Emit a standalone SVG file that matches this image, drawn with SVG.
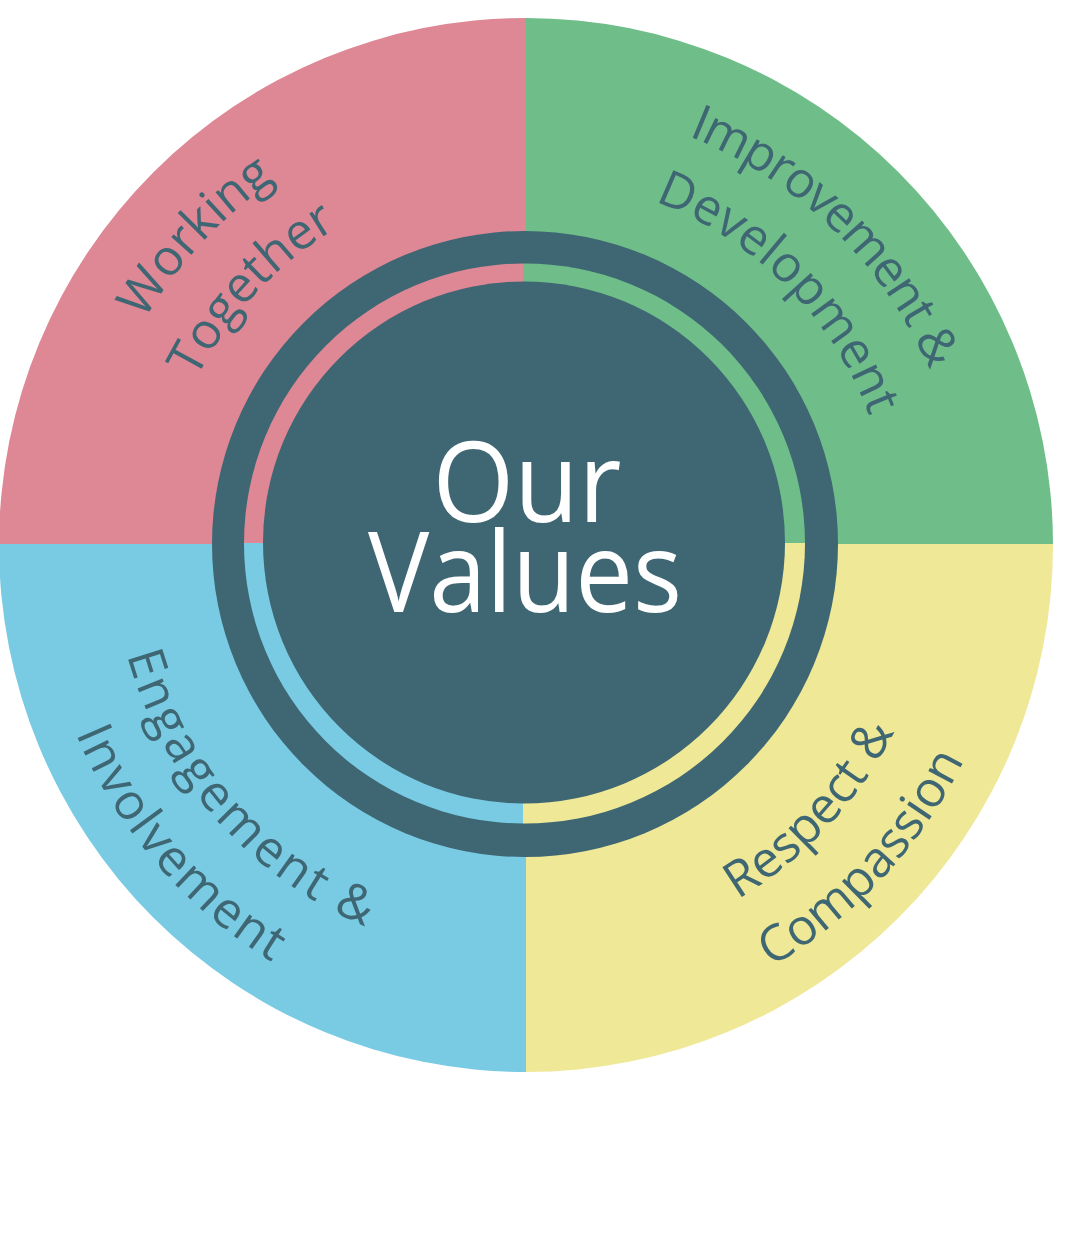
<svg xmlns="http://www.w3.org/2000/svg" xmlns:xlink="http://www.w3.org/1999/xlink" width="1087" height="1233" viewBox="0 0 1087 1233">
<style>
.pink{fill:#DE8795}.green{fill:#6FBE8A}.yellow{fill:#EEE897}.blue{fill:#79CAE3}.dark{fill:#3E6673}
.lbl{font-family:"Open Sans","DejaVu Sans",sans-serif;font-size:50px;fill:#3E6673}
.title{font-family:"Open Sans","DejaVu Sans",sans-serif;font-size:112px;fill:#FFFFFF;text-anchor:middle}
</style>
<defs>
<path id="pWorking" d="M172.2,811.6 A443,443 0 0 1 767.3,173.5"/>
<path id="pTogether" d="M231.3,767.1 A369,369 0 0 1 727.0,235.5"/>
<path id="pImprovement" d="M267.4,189.0 A440,440 0 0 1 890.8,791.0"/>
<path id="pDevelopment" d="M315.5,244.4 A367,367 0 0 1 826.6,755.5"/>
<path id="pRespect" d="M301.1,891.4 A413,413 0 0 0 855.8,296.5"/>
<path id="pCompassion" d="M260.2,954.3 A488,488 0 0 0 915.7,251.3"/>
<path id="pEngagement" d="M202.0,287.3 A414,414 0 0 0 742.3,898.0"/>
<path id="pInvolvement" d="M147.8,236.6 A488,488 0 0 0 775.9,964.2"/>
</defs>
<rect width="1087" height="1233" fill="#FFFFFF"/>
<g id="outer-ring">
<path class="pink" d="M526,544 L-1,544 A527,527 0 0 1 526,18 Z"/>
<path class="green" d="M526,544 L526,18 A527,527 0 0 1 1053,544 Z"/>
<path class="yellow" d="M526,544 L1053,544 A527,527 0 0 1 526,1072 Z"/>
<path class="blue" d="M526,544 L526,1072 A527,527 0 0 1 -1,544 Z"/>
</g>
<g id="center">
<circle class="dark" cx="525" cy="544" r="313"/>
<path class="pink" d="M523,543 L244,543 A280,280 0 0 1 523,263.5 Z"/>
<path class="green" d="M523,543 L523,263.5 A280,280 0 0 1 805,543 Z"/>
<path class="yellow" d="M523,543 L805,543 A280,280 0 0 1 523,823.5 Z"/>
<path class="blue" d="M523,543 L523,823.5 A280,280 0 0 1 244,543 Z"/>
<circle class="dark" cx="524" cy="542.5" r="261"/>
<text class="title" x="527" y="522" textLength="189" lengthAdjust="spacingAndGlyphs">Our</text>
<text class="title" x="525" y="612" textLength="314" lengthAdjust="spacingAndGlyphs">Values</text>
</g>
<g id="working-together">
<text class="lbl"><textPath xlink:href="#pWorking" href="#pWorking" startOffset="50%" text-anchor="middle">Working</textPath></text>
<text class="lbl"><textPath xlink:href="#pTogether" href="#pTogether" startOffset="50%" text-anchor="middle">Together</textPath></text>
</g>
<g id="improvement-development">
<text class="lbl" letter-spacing="-1.8"><textPath xlink:href="#pImprovement" href="#pImprovement" startOffset="50%" text-anchor="middle">Improvement &amp;</textPath></text>
<text class="lbl"><textPath xlink:href="#pDevelopment" href="#pDevelopment" startOffset="50%" text-anchor="middle">Development</textPath></text>
</g>
<g id="respect-compassion">
<text class="lbl"><textPath xlink:href="#pRespect" href="#pRespect" startOffset="50%" text-anchor="middle">Respect &amp;</textPath></text>
<text class="lbl"><textPath xlink:href="#pCompassion" href="#pCompassion" startOffset="50%" text-anchor="middle">Compassion</textPath></text>
</g>
<g id="engagement-involvement">
<text class="lbl" letter-spacing="3"><textPath xlink:href="#pEngagement" href="#pEngagement" startOffset="50%" text-anchor="middle">Engagement &amp;</textPath></text>
<text class="lbl" letter-spacing="1.8"><textPath xlink:href="#pInvolvement" href="#pInvolvement" startOffset="50%" text-anchor="middle">Involvement</textPath></text>
</g>
<g id="connectors"></g>
</svg>
